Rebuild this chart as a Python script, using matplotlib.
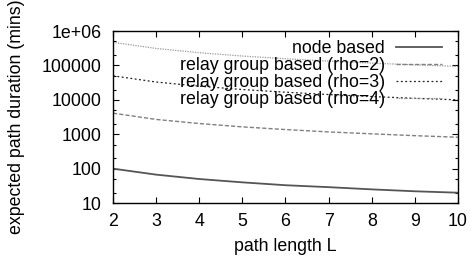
"""Expected path duration vs path length (gnuplot-style log plot)."""

import matplotlib
matplotlib.use("Agg")
import matplotlib.pyplot as plt
from matplotlib.ticker import FixedLocator, FixedFormatter, NullFormatter

plt.rcParams["font.family"] = ["Liberation Sans", "DejaVu Sans"]

# path length L
path_len = [2, 3, 4, 5, 6, 7, 8, 9, 10]

# values (mins)
node_based = [100, 67, 50, 40, 33, 29, 25, 22, 20]
relay_rho2 = [4100, 2700, 2050, 1640, 1370, 1170, 1030, 910, 820]
relay_rho3 = [50000, 33000, 25000, 20000, 16700, 14300, 12500, 11100, 10000]
relay_rho4 = [470000, 313000, 235000, 188000, 157000, 134000, 117000, 104000, 94000]

y_ticks = [10, 100, 1000, 10000, 100000, 1000000]
y_tick_labels = ["10", "100", "1000", "10000", "100000", "1e+06"]

FS = 12.8

fig = plt.figure(figsize=(4.75, 2.59), dpi=100)
ax = fig.add_axes([0.238, 0.216, 0.726, 0.664])

ax.plot(path_len, node_based, color="#555555", lw=1.3, label="node based")
ax.plot(path_len, relay_rho2, color="#808080", lw=1.0, dashes=(3, 1.5),
        label="relay group based (rho=2)")
ax.plot(path_len, relay_rho3, color="#202020", lw=0.9, dashes=(1.5, 2),
        label="relay group based (rho=3)")
ax.plot(path_len, relay_rho4, color="#999999", lw=0.9, dashes=(1, 1),
        label="relay group based (rho=4)")

ax.set_yscale("log")
ax.set_xlim(2, 10)
ax.set_ylim(10, 1e6)

ax.yaxis.set_major_locator(FixedLocator(y_ticks))
ax.yaxis.set_major_formatter(FixedFormatter(y_tick_labels))
minor = [m * d for d in y_ticks[:-1] for m in (2, 5)]
ax.yaxis.set_minor_locator(FixedLocator(minor))
ax.yaxis.set_minor_formatter(NullFormatter())
ax.set_xticks(path_len)

ax.tick_params(which="both", direction="in", top=True, right=True,
               labelsize=FS, width=0.8)
ax.tick_params(axis="y", pad=8)
ax.tick_params(axis="x", pad=7)
ax.tick_params(which="major", length=4)
ax.tick_params(which="minor", length=2)
for s in ax.spines.values():
    s.set_linewidth(1.0)

ax.set_xlabel("path length L", fontsize=FS, labelpad=6)
ax.set_ylabel("expected path duration (mins)", fontsize=FS, labelpad=12)

leg = ax.legend(loc="upper right", bbox_to_anchor=(0.985, 1.01), frameon=False,
                markerfirst=False, fontsize=FS, handlelength=2.6,
                handletextpad=0.6, labelspacing=0.0, borderaxespad=0.2)
for t in leg.get_texts():
    t.set_ha("right")

fig.savefig("out.png", dpi=100)
